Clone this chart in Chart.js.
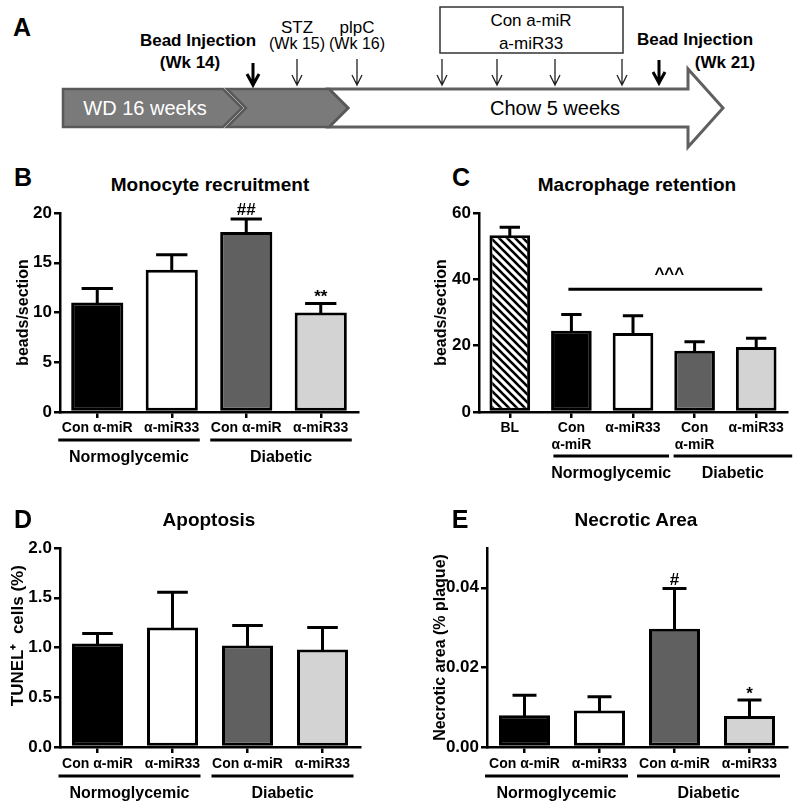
<!DOCTYPE html>
<html><head><meta charset="utf-8"><title>miR-33 figure</title>
<script src="https://cdn.jsdelivr.net/npm/chart.js@4.4.1/dist/chart.umd.min.js"></script>
<style>
html,body{margin:0;padding:0;background:#fff;}
#fig{position:relative;width:800px;height:811px;overflow:hidden;font-family:"Liberation Sans",Arial,Helvetica,sans-serif;color:#000;}
.t{position:absolute;white-space:nowrap;transform:translate(-50%,-50%);line-height:1;}
.letter{font-size:25px;font-weight:bold;}
.title{font-size:19px;font-weight:bold;}
.a{font-size:17px;}
.wk{font-size:16px;}
.ab{font-size:17px;font-weight:bold;}
.bar{font-size:20px;}
canvas{position:absolute;}
svg{position:absolute;left:0;top:0;}
</style></head><body><div id="fig">
<svg width="800" height="160">
  <polygon points="329,89 688,89 688,69 723,108 688,147 688,127 329,127 348,108" fill="#fff" stroke="#606060" stroke-width="3" stroke-linejoin="miter"/>
  <polygon points="227,89 329,89 348,108 329,127 227,127 246,108" fill="#7a7a7a" stroke="#595959" stroke-width="2.5"/>
  <polygon points="63,89 223,89 242,108 223,127 63,127" fill="#7a7a7a" stroke="#595959" stroke-width="2.5"/>
  <g stroke="#222" stroke-width="1.3" fill="none">
    <path d="M297 59 V85 M292 75 L297 85 L302 75"/>
    <path d="M357 59 V85 M352 75 L357 85 L362 75"/>
    <path d="M442 59 V85 M437 75 L442 85 L447 75"/>
    <path d="M497 59 V85 M492 75 L497 85 L502 75"/>
    <path d="M555 59 V85 M550 75 L555 85 L560 75"/>
    <path d="M622 59 V85 M617 75 L622 85 L627 75"/>
  </g>
  <g stroke="#000" stroke-width="3" fill="none" stroke-linejoin="miter">
    <path d="M253 63 V84 M247 74 L253 85 L259 74"/>
    <path d="M659 60 V82 M653 72 L659 83 L665 72"/>
  </g>
  <rect x="440" y="7" width="183" height="46" fill="none" stroke="#333" stroke-width="1.5"/>
</svg>

<canvas id="cB" width="400" height="285" style="left:0px;top:195px"></canvas>
<canvas id="cC" width="400" height="295" style="left:400px;top:195px"></canvas>
<canvas id="cD" width="400" height="281" style="left:0px;top:530px"></canvas>
<canvas id="cE" width="400" height="281" style="left:400px;top:530px"></canvas>

<div class="t letter" style="left:22px;top:27px">A</div>
<div class="t ab" style="left:198px;top:40px">Bead Injection</div>
<div class="t ab" style="left:190px;top:62px">(Wk 14)</div>
<div class="t a" style="left:297px;top:27px">STZ</div>
<div class="t wk" style="left:297px;top:44px">(Wk 15)</div>
<div class="t a" style="left:357px;top:27px">plpC</div>
<div class="t wk" style="left:357px;top:44px">(Wk 16)</div>
<div class="t a" style="left:531px;top:20px">Con a-miR</div>
<div class="t a" style="left:531px;top:43px">a-miR33</div>
<div class="t ab" style="left:695px;top:39px">Bead Injection</div>
<div class="t ab" style="left:725px;top:62px">(Wk 21)</div>
<div class="t bar" style="left:145px;top:108px;color:#fff">WD 16 weeks</div>
<div class="t bar" style="left:555px;top:108px">Chow 5 weeks</div>

<div class="t letter" style="left:23px;top:177px">B</div>
<div class="t title" style="left:210px;top:184px">Monocyte recruitment</div>
<div class="t letter" style="left:461px;top:177px">C</div>
<div class="t title" style="left:637px;top:184px">Macrophage retention</div>
<div class="t letter" style="left:23px;top:519px">D</div>
<div class="t title" style="left:209px;top:519px">Apoptosis</div>
<div class="t letter" style="left:460px;top:519px">E</div>
<div class="t title" style="left:636px;top:519px">Necrotic Area</div>
</div>
<script>
// ---------- data ----------
const treatLabels = ["Con α-miR", "α-miR33", "Con α-miR", "α-miR33"];
const retentionLabels = ["BL", ["Con", "α-miR"], "α-miR33", ["Con", "α-miR"], "α-miR33"];
const groupNames = ["Normoglycemic", "Diabetic"];
const groupSpans4 = [[0, 1], [2, 3]];
const groupSpansC = [[1, 2], [3, 4]];

const recruitMean = [11.0, 14.3, 18.1, 10.0];
const recruitErr  = [1.4, 1.5, 1.3, 0.9];
const recruitMarks = ["", "", "##", "**"];

const retentionMean = [53.3, 24.5, 23.8, 18.5, 19.6];
const retentionErr  = [2.4, 4.9, 5.2, 2.7, 2.6];
const retentionBracket = { from: 1, to: 4, value: 37, text: "^^^" };

const apoptosisMean = [1.04, 1.20, 1.02, 0.98];
const apoptosisErr  = [0.10, 0.355, 0.20, 0.22];

const necroticMean = [0.0080, 0.0092, 0.0297, 0.0078];
const necroticErr  = [0.0050, 0.0034, 0.0101, 0.0040];
const necroticMarks = ["", "", "#", "*"];

const yTicksB = { max: 20, step: 5, dec: 0 };
const yTicksC = { max: 60, step: 20, dec: 0 };
const yTicksD = { max: 2, step: 0.5, dec: 1 };
const yTicksE = { max: 0.05, step: 0.02, dec: 2 };

// ---------- styles ----------
const FONT = '"Liberation Sans", Arial, Helvetica, sans-serif';
const BLACK = "#000000", WHITE = "#ffffff", DARK = "#606060", LIGHT = "#d3d3d3";

function hatchPattern() {
  const s = 8, c = document.createElement("canvas");
  c.width = c.height = s;
  const g = c.getContext("2d");
  g.fillStyle = "#fff"; g.fillRect(0, 0, s, s);
  g.strokeStyle = "#000"; g.lineWidth = 2.6;
  g.beginPath();
  g.moveTo(-2, -2); g.lineTo(s + 2, s + 2);
  g.moveTo(-2, s - 2); g.lineTo(2, s + 2);
  g.moveTo(s - 2, -2); g.lineTo(s + 2, 2);
  g.stroke();
  return document.createElement("canvas").getContext("2d").createPattern(c, "repeat");
}

function drawGlyphCentered(ctx, text, x, cy) {
  ctx.textBaseline = "alphabetic";
  const m = ctx.measureText(text);
  ctx.fillText(text, x, cy + (m.actualBoundingBoxAscent - m.actualBoundingBoxDescent) / 2);
}

function annotPlugin(p) {
  return {
    id: "annot",
    afterDatasetsDraw(chart) {
      const ctx = chart.ctx, ds = chart.data.datasets[0], meta = chart.getDatasetMeta(0);
      const ys = chart.scales.y, xs = chart.scales.x, area = chart.chartArea;
      ctx.save();
      ctx.strokeStyle = "#000"; ctx.fillStyle = "#000"; ctx.lineCap = "butt";
      ctx.lineWidth = 3;
      meta.data.forEach((bar, i) => {
        const v = ds.data[i];
        const top = ys.getPixelForValue(v + p.errors[i]);
        const base = ys.getPixelForValue(v);
        const half = bar.width * p.capRatio / 2;
        ctx.beginPath();
        ctx.moveTo(bar.x, base + 1); ctx.lineTo(bar.x, top);
        ctx.moveTo(bar.x - half, top); ctx.lineTo(bar.x + half, top);
        ctx.stroke();
      });
      ctx.font = "bold 17px " + FONT;
      ctx.textAlign = "center";
      (p.marks || []).forEach((m, i) => {
        if (!m) return;
        const top = ys.getPixelForValue(ds.data[i] + p.errors[i]);
        drawGlyphCentered(ctx, m, meta.data[i].x, top - 10);
      });
      if (p.bracket) {
        const b = p.bracket;
        const yb = ys.getPixelForValue(b.value);
        const x1 = xs.getPixelForValue(b.from) - 3, x2 = xs.getPixelForValue(b.to) + 6;
        ctx.lineWidth = 3;
        ctx.beginPath(); ctx.moveTo(x1, yb); ctx.lineTo(x2, yb); ctx.stroke();
        drawGlyphCentered(ctx, b.text, (x1 + x2) / 2 + 4, yb - 18);
      }
      // group bars + labels
      ctx.font = "bold 16px " + FONT;
      ctx.lineWidth = 3;
      ctx.textBaseline = "middle";
      p.spans.forEach((sp, gi) => {
        const x1 = xs.getPixelForValue(sp[0]) - p.pads[gi][0];
        const x2 = xs.getPixelForValue(sp[1]) + p.pads[gi][1];
        const yl = area.bottom + p.lineOff;
        ctx.beginPath(); ctx.moveTo(x1, yl); ctx.lineTo(x2, yl); ctx.stroke();
        ctx.fillText(groupNames[gi], (x1 + x2) / 2, area.bottom + p.textOff);
      });
      ctx.restore();
    }
  };
}

function buildChart(id, p) {
  const cv = document.getElementById(id);
  const L = parseFloat(cv.style.left), T = parseFloat(cv.style.top), W = cv.width, H = cv.height;
  const a = p.area;
  const tSize = p.yTitleSize || 16;
  const gridCfg = { display: true, drawOnChartArea: false, offset: false, drawTicks: true,
                    tickLength: 6, tickWidth: 2.5, lineWidth: 2.5, color: "#000" };
  return new Chart(cv, {
    type: "bar",
    data: {
      labels: p.labels,
      datasets: [{
        data: p.values, backgroundColor: p.colors, borderColor: "#000", borderWidth: 3,
        borderSkipped: false, categoryPercentage: 1, barPercentage: p.barPct
      }]
    },
    options: {
      responsive: false, animation: false, devicePixelRatio: 1,
      layout: { padding: { left: 0, top: a.top - T, right: L + W - a.right, bottom: 0 } },
      plugins: { legend: { display: false }, tooltip: { enabled: false }, title: { display: false } },
      scales: {
        x: {
          grid: gridCfg,
          border: { display: true, color: "#000", width: 2.5 },
          ticks: { color: "#000", font: { family: FONT, size: 14, weight: "bold", lineHeight: 1.2 },
                   padding: p.xPad, maxRotation: 0, minRotation: 0, autoSkip: false },
          afterFit: s => { s.height = T + H - a.bottom; }
        },
        y: {
          min: 0, max: p.ticks.max,
          grid: gridCfg,
          border: { display: true, color: "#000", width: 2.5 },
          ticks: { stepSize: p.ticks.step, includeBounds: false, color: "#000",
                   font: { family: FONT, size: 17, weight: "bold" }, padding: 2,
                   callback: v => Number(v).toFixed(p.ticks.dec) },
          title: { display: true, text: p.yTitle, color: "#000",
                   font: { family: FONT, size: tSize, weight: "bold", lineHeight: 1.2 },
                   padding: { top: p.yTitleX - L - tSize * 0.6, bottom: 0 } },
          afterFit: s => { s.width = a.left - L; }
        }
      }
    },
    plugins: [annotPlugin(p)]
  });
}

buildChart("cB", {
  labels: treatLabels, values: recruitMean, errors: recruitErr, marks: recruitMarks,
  colors: [BLACK, WHITE, DARK, LIGHT], ticks: yTicksB, yTitle: "beads/section", yTitleX: 24,
  area: { left: 60, top: 213, right: 358, bottom: 412 }, barPct: 0.70, capRatio: 0.6, xPad: 2,
  spans: groupSpans4, pads: [[39, 28], [36, 31]], lineOff: 28, textOff: 46
});
buildChart("cC", {
  labels: retentionLabels, values: retentionMean, errors: retentionErr, bracket: retentionBracket,
  colors: [hatchPattern(), BLACK, WHITE, DARK, LIGHT], ticks: yTicksC, yTitle: "beads/section", yTitleX: 442,
  area: { left: 479, top: 213, right: 787, bottom: 412 }, barPct: 0.66, capRatio: 0.5, xPad: 2,
  spans: groupSpansC, pads: [[18, 36], [21, 36]], lineOff: 44, textOff: 62
});
buildChart("cD", {
  labels: treatLabels, values: apoptosisMean, errors: apoptosisErr,
  colors: [BLACK, WHITE, DARK, LIGHT], ticks: yTicksD, yTitle: "     TUNEL⁺  cells (%)", yTitleX: 18, yTitleSize: 17,
  area: { left: 60, top: 548, right: 360, bottom: 747 }, barPct: 0.68, capRatio: 0.6, xPad: 3,
  spans: groupSpans4, pads: [[39, 28], [36, 31]], lineOff: 29, textOff: 47
});
buildChart("cE", {
  labels: treatLabels, values: necroticMean, errors: necroticErr, marks: necroticMarks,
  colors: [BLACK, WHITE, DARK, LIGHT], ticks: yTicksE, yTitle: "Necrotic area (% plaque)", yTitleX: 441,
  area: { left: 487, top: 548, right: 787, bottom: 747 }, barPct: 0.68, capRatio: 0.47, xPad: 3,
  spans: groupSpans4, pads: [[39.5, 28.5], [37.5, 30.5]], lineOff: 29, textOff: 47
});
</script></body></html>
